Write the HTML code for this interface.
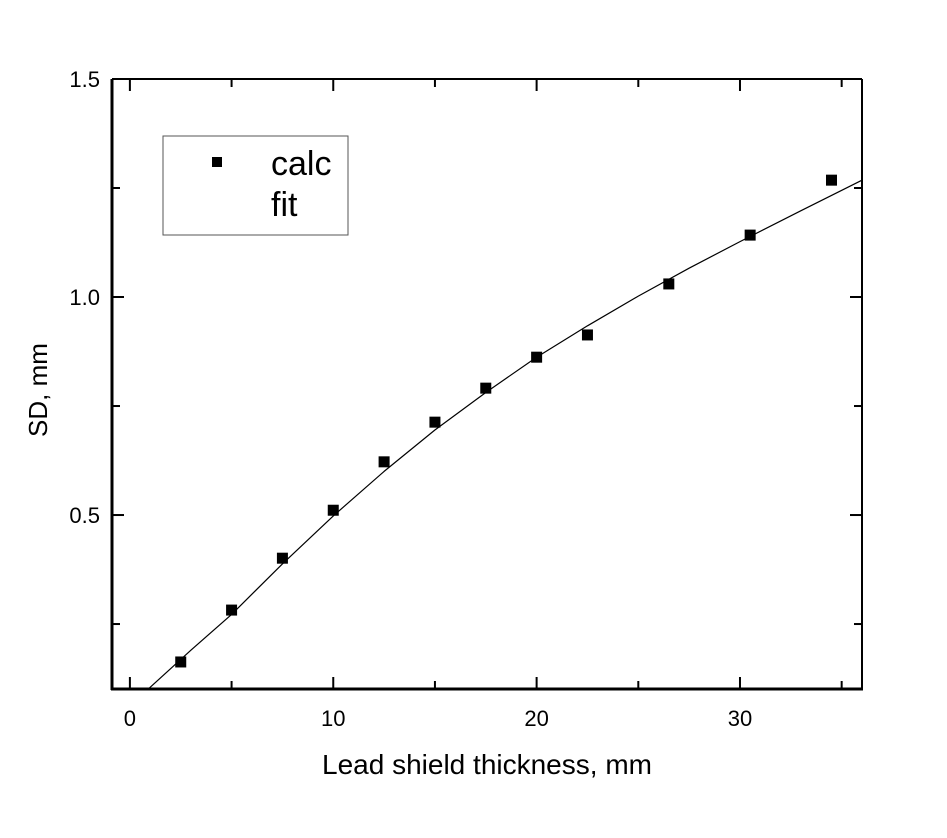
<!DOCTYPE html>
<html><head><meta charset="utf-8"><style>body{margin:0;background:#fff}svg{display:block;font-family:"Liberation Sans",Arial,sans-serif}</style></head>
<body>
<svg id="chart" width="947" height="838" viewBox="0 0 947 838">
<g id="g"></g>
</svg>
<script>
const calcX=[2.5,5,7.5,10,12.5,15,17.5,20,22.5,26.5,30.5,34.5];
const calcY=[0.163,0.282,0.401,0.511,0.622,0.713,0.791,0.862,0.913,1.030,1.142,1.268];
const fitX=[0.88,3,5,7.5,10,12.5,15,17.5,20,22.5,25,27.5,30,33,36];
const fitY=[0.10,0.19,0.272,0.388,0.498,0.600,0.695,0.781,0.862,0.934,1.002,1.066,1.127,1.198,1.268];
const xTicks=[0,10,20,30];
const xMinor=[5,15,25,35];
const yTicks=[0.5,1.0,1.5];
const yTickLabels=["0.5","1.0","1.5"];
const yMinor=[0.25,0.75,1.25];
const L=112,R=862,T=79,B=689,xmin=-0.88,xmax=36.0,ymin=0.101,ymax=1.5;
const sx=v=>L+(v-xmin)/(xmax-xmin)*(R-L);
const sy=v=>B-(v-ymin)/(ymax-ymin)*(B-T);
const g=document.getElementById('g');const NS='http://www.w3.org/2000/svg';
function mk(t,a,p){const e=document.createElementNS(NS,t);for(const k in a)e.setAttribute(k,a[k]);(p||g).appendChild(e);return e;}
let d=fitX.map((x,i)=>(i?'L':'M')+sx(x).toFixed(1)+','+sy(fitY[i]).toFixed(1)).join('');
const fl=mk('path',{d:d,fill:'none',stroke:'#000','stroke-width':1.2,'stroke-linejoin':'round'});


calcX.forEach((x,i)=>{const r=mk('rect',{x:sx(x)-5.5,y:sy(calcY[i])-5.5,width:11,height:11,fill:'#000'});

});
mk('line',{x1:L,y1:T,x2:R,y2:T,stroke:'#000','stroke-width':2});
mk('line',{x1:R,y1:T,x2:R,y2:B,stroke:'#000','stroke-width':2});
const xa=mk('line',{x1:L-1,y1:B,x2:R+1,y2:B,stroke:'#000','stroke-width':3});


const ya=mk('line',{x1:L,y1:T,x2:L,y2:B+1,stroke:'#000','stroke-width':3});


xTicks.forEach(v=>{const x=sx(v);mk('line',{x1:x,y1:B,x2:x,y2:B-12,stroke:'#000','stroke-width':2});mk('line',{x1:x,y1:T,x2:x,y2:T+12,stroke:'#000','stroke-width':2});
const t=mk('text',{x:x,y:B+37,'text-anchor':'middle','font-size':22});t.textContent=v;

});
xMinor.forEach(v=>{const x=sx(v);mk('line',{x1:x,y1:B,x2:x,y2:B-8,stroke:'#000','stroke-width':2});mk('line',{x1:x,y1:T,x2:x,y2:T+8,stroke:'#000','stroke-width':2});});
yTicks.forEach((v,i)=>{const y=sy(v);mk('line',{x1:L,y1:y,x2:L+12,y2:y,stroke:'#000','stroke-width':2});mk('line',{x1:R,y1:y,x2:R-12,y2:y,stroke:'#000','stroke-width':2});
const t=mk('text',{x:L-12,y:y+8,'text-anchor':'end','font-size':22});t.textContent=yTickLabels[i];

});
yMinor.forEach(v=>{const y=sy(v);mk('line',{x1:L,y1:y,x2:L+8,y2:y,stroke:'#000','stroke-width':2});mk('line',{x1:R,y1:y,x2:R-8,y2:y,stroke:'#000','stroke-width':2});});
const xt=mk('text',{x:487,y:774,'text-anchor':'middle','font-size':28});xt.textContent='Lead shield thickness, mm';


const yt=mk('text',{x:47,y:390,'text-anchor':'middle','font-size':26,transform:'rotate(-90 47 390)'});yt.textContent='SD, mm';


const lg=mk('g',{});


mk('rect',{x:163,y:136,width:185,height:99,fill:'#fff',stroke:'#555','stroke-width':1},lg);
mk('rect',{x:212,y:157,width:10,height:10,fill:'#000'},lg);
const t1=mk('text',{x:271,y:175,'font-size':34},lg);t1.textContent='calc';


const t2=mk('text',{x:271,y:216,'font-size':34},lg);t2.textContent='fit';


</script>
</body></html>
